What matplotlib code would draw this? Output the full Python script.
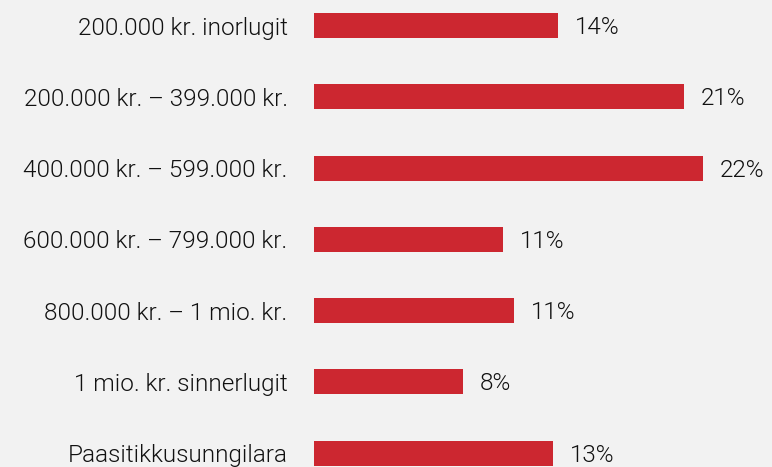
import matplotlib.pyplot as plt

categories = [
    "200.000 kr. inorlugit",
    "200.000 kr. \u2013 399.000 kr.",
    "400.000 kr. \u2013 599.000 kr.",
    "600.000 kr. \u2013 799.000 kr.",
    "800.000 kr. \u2013 1 mio. kr.",
    "1 mio. kr. sinnerlugit",
    "Paasitikkusunngilara",
]
values = [13.8, 20.9, 22.0, 10.7, 11.3, 8.4, 13.5]
value_labels = ["14%", "21%", "22%", "11%", "11%", "8%", "13%"]

bg = "#f2f2f2"
bar_color = "#cc2730"
text_color = "#111111"

plt.rcParams["font.family"] = ["Roboto", "DejaVu Sans"]

fig = plt.figure(figsize=(7.72, 4.67), dpi=100, facecolor=bg)
ax = fig.add_axes([314 / 772, 0, 1 - 314 / 772, 1], facecolor=bg)

ypos = list(range(len(categories)))
ax.barh(ypos, values, height=0.351, color=bar_color)

for y, v, lab in zip(ypos, values, value_labels):
    ax.annotate(lab, (v, y), xytext=(12, -1.5), textcoords="offset points",
                va="center", ha="left", fontsize=17.5, fontweight=300,
                color=text_color)

ax.set_xlim(0, (772 - 314) / 17.7)
ax.set_ylim(6.196, -0.358)
ax.set_yticks(ypos)
ax.set_yticklabels(categories, fontsize=17.5, fontweight=300, color=text_color)
ax.tick_params(axis="y", length=0, pad=19)
ax.set_xticks([])
for s in ax.spines.values():
    s.set_visible(False)

fig.savefig("out.png", dpi=100, facecolor=bg)
